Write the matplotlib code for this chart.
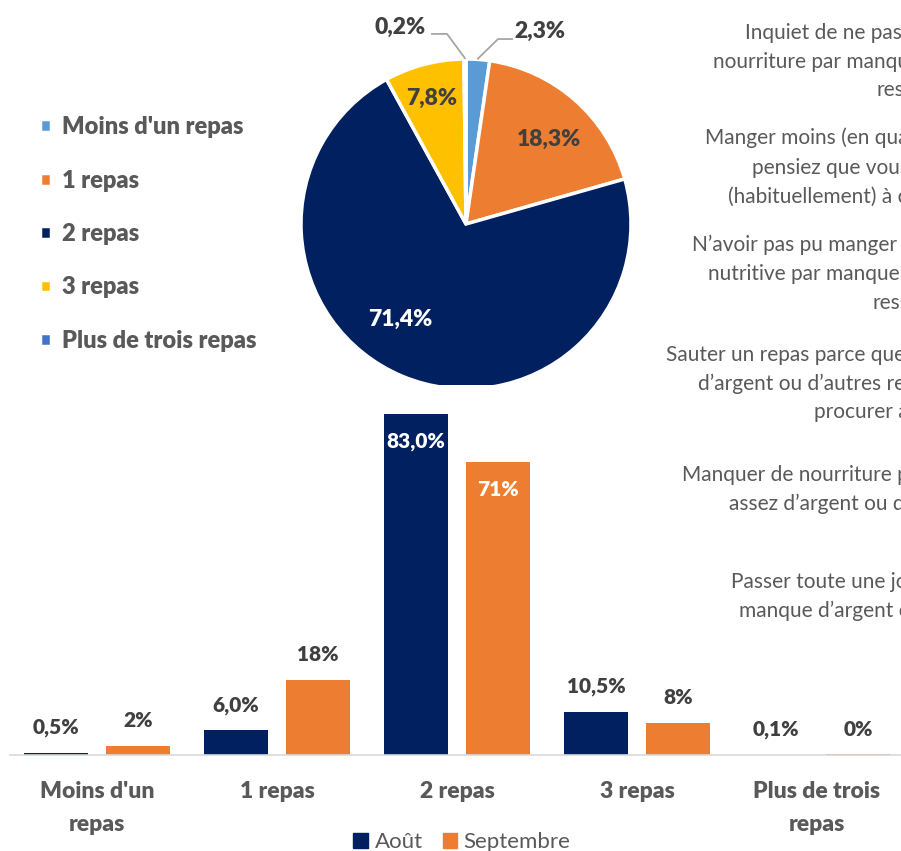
import numpy as np
import matplotlib
matplotlib.use("Agg")
import matplotlib.pyplot as plt
from matplotlib.patches import Patch

plt.rcParams['font.family'] = ['Lato', 'DejaVu Sans']

# pie : nombre de repas par jour (septembre)
pie_labels = ["Moins d'un repas", "1 repas", "2 repas", "3 repas", "Plus de trois repas"]
pie_values = [2.3, 18.3, 71.4, 7.8, 0.2]
pie_colors = ['#5B9BD5', '#ED7D31', '#002060', '#FFC000', '#4472C4']

# barres : août vs septembre
categories = ["Moins d'un\nrepas", "1 repas", "2 repas", "3 repas", "Plus de trois\nrepas"]
aout = [0.5, 6.0, 83.0, 10.5, 0.1]
septembre = [2.3, 18.3, 71.4, 7.8, 0.2]
series_names = ["Août", "Septembre"]

# texte coupé à droite (une ligne par entrée)
side_lines = [
    "Inquiet de ne pas avoir assez de",
    "nourriture par manque d'argent ou d'autres",
    "ressources",
    "Manger moins (en quantité) que vous",
    "pensiez que vous auriez dû manger",
    "(habituellement) à cause d'un manque",
    "N’avoir pas pu manger une nourriture saine et",
    "nutritive par manque d'argent ou d'autres",
    "ressources",
    "Sauter un repas parce que vous n'aviez pas assez",
    "d’argent ou d’autres ressources pour vous",
    "procurer à manger",
    "Manquer de nourriture parce que vous n'aviez pas",
    "assez d’argent ou d'autres ressources",
    "Passer toute une journée sans manger par",
    "manque d’argent ou d'autres ressources",
]
side_x = [745, 713, 877, 705, 752, 728, 692, 708, 873, 666, 698, 814, 682, 729, 731, 739]
side_y = [33, 62, 90, 138, 168, 197, 245, 274, 303, 355, 384, 412, 475, 504, 582, 611]

W, H = 901, 851
BOLD = 'heavy'
fig = plt.figure(figsize=(W / 100, H / 100), dpi=100)

def fmt(v, dec):
    return (f"{v:.{dec}f}%").replace('.', ',')

#%% pie
cx, cy, r = 466, 224, 165
axp = fig.add_axes([(cx - r) / W, (H - cy - r) / H, 2 * r / W, 2 * r / H])
wedges, _ = axp.pie(pie_values, colors=pie_colors, startangle=90, counterclock=False,
                    wedgeprops=dict(edgecolor='white', linewidth=2.5))
axp.set_xlim(-1, 1)
axp.set_ylim(-1, 1)

inner_pos = {1: (0.50, 0.51), 2: (-0.40, -0.58), 3: (-0.21, 0.76)}
inner_col = {1: '#404040', 2: 'white', 3: '#404040'}
for i, (px, py) in inner_pos.items():
    axp.text(px, py, fmt(pie_values[i], 1), ha='center', va='center',
             fontsize=16.5, fontweight=BOLD, color=inner_col[i])

# étiquettes extérieures avec lignes de rappel
outer = {0: ((0.194, 1.121), (0.279, 1.121), (0.45, 1.165)),
         4: ((-0.115, 1.152), (-0.206, 1.152), (-0.40, 1.19))}
for i, (elbow, end, tpos) in outer.items():
    w = wedges[i]
    mid = np.deg2rad((w.theta1 + w.theta2) / 2)
    ax0, ay0 = np.cos(mid) * 1.005, np.sin(mid) * 1.005
    axp.plot([ax0, elbow[0], end[0]], [ay0, elbow[1], end[1]], color='#A6A6A6',
             lw=1.3, clip_on=False)
    axp.text(tpos[0], tpos[1], fmt(pie_values[i], 1), ha='center', va='center',
             fontsize=16.5, fontweight=BOLD, color='#404040')

fig.legend(wedges, pie_labels, loc='upper left', bbox_to_anchor=(19 / W, 1 - 95 / H),
           frameon=False, prop=dict(size=17, weight=BOLD), labelcolor='#595959',
           handlelength=0.45, handleheight=0.45, handletextpad=0.45, labelspacing=1.33)

#%% bars
y_scale = 4.108  # px par %
axb = fig.add_axes([10 / W, (H - 755) / H, (W - 10) / W, 90 * y_scale / H])
x = np.arange(len(categories))
off, bw = 0.228, 0.36
b1 = axb.bar(x - off, aout, bw, color='#002060', label=series_names[0])
b2 = axb.bar(x + off, septembre, bw, color='#ED7D31', label=series_names[1])
axb.set_xlim((10 - 97) / 180, (W - 97) / 180)
axb.set_ylim(0, 90)

for bars, vals, dec in [(b1, aout, 1), (b2, septembre, 0)]:
    for b, v in zip(bars, vals):
        xc = b.get_x() + b.get_width() / 2
        if v > 50:
            axb.annotate(fmt(v, dec), (xc, v), xytext=(0, -20), textcoords='offset points',
                         ha='center', va='center', fontsize=15, fontweight=BOLD, color='white')
        else:
            axb.annotate(fmt(v, dec), (xc, v), xytext=(0, 18), textcoords='offset points',
                         ha='center', va='center', fontsize=15, fontweight=BOLD, color='#404040')

for s in ['top', 'left', 'right']:
    axb.spines[s].set_visible(False)
axb.spines['bottom'].set_color('#D9D9D9')
axb.spines['bottom'].set_linewidth(1.2)
axb.set_yticks([])
axb.set_xticks(x)
axb.set_xticklabels(categories, fontsize=16.5, fontweight=BOLD, color='#595959',
                    linespacing=1.7)
axb.tick_params(axis='x', length=0, pad=19)

fig.legend(handles=[Patch(color='#002060'), Patch(color='#ED7D31')], labels=series_names,
           loc='center', bbox_to_anchor=(462 / W, 1 - 842 / H), ncol=2, frameon=False,
           fontsize=16, labelcolor='#595959', handlelength=0.65, handleheight=0.65,
           handletextpad=0.3, columnspacing=0.9)

#%% texte latéral (coupé par le bord)
for t, sx, sy in zip(side_lines, side_x, side_y):
    fig.text(sx / W, 1 - sy / H, t, ha='left', va='center', fontsize=15, color='#595959')

fig.savefig('out.png', dpi=100)
